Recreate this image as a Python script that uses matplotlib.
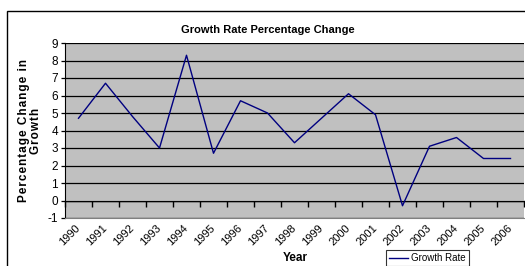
import matplotlib
matplotlib.use("Agg")
import matplotlib.pyplot as plt
from matplotlib.patches import Rectangle
import numpy as np

plt.rcParams['font.family'] = ['Liberation Sans', 'DejaVu Sans']

# data
years = ['1990', '1991', '1992', '1993', '1994', '1995', '1996', '1997', '1998',
         '1999', '2000', '2001', '2002', '2003', '2004', '2005', '2006']
growth = [4.7, 6.7, 4.8, 3.0, 8.3, 2.7, 5.7, 5.0, 3.3,
          4.7, 6.1, 4.9, -0.3, 3.1, 3.6, 2.4, 2.4]
yticks = list(range(-1, 10))


def spaced(s):
    # Excel-style letter spacing on the axis title
    return '\u200a'.join(s)


fig = plt.figure(figsize=(5.25, 2.66), dpi=100)
fig.patch.set_facecolor('white')

# outer chart border (runs off the right and bottom edges, like the crop)
fig.patches.append(Rectangle((7 / 525, -0.2), 1.2, 1 - 11 / 266 + 0.2,
                             transform=fig.transFigure, fill=False,
                             edgecolor='black', linewidth=1.0))

ax = fig.add_axes([65 / 525, 1 - 218 / 266, 459 / 525, 175 / 266])
ax.set_facecolor('#C0C0C0')

x = np.arange(len(years))
line, = ax.plot(x, growth, color='#000080', linewidth=1.0, label='Growth Rate')

ax.set_xlim(-0.5, len(years) - 0.5)
ax.set_ylim(-1, 9)
ax.set_yticks(yticks)
ax.set_yticklabels([str(v) for v in yticks], fontsize=8.5)
ax.yaxis.grid(True, color='black', linewidth=0.9)
ax.set_axisbelow(True)

ax.set_xticks(x)
ax.set_xticklabels(years, fontsize=8, rotation=45, ha='right', va='center',
                   rotation_mode='anchor')
ax.tick_params(axis='x', length=0, pad=6)
ax.tick_params(axis='y', length=3, width=0.9, pad=2, color='black')

for s in ['top', 'right']:
    ax.spines[s].set_visible(False)
ax.spines['left'].set_color('black')
ax.spines['bottom'].set_color('#808080')

# category axis crossing at zero, ticks between categories
sec = ax.secondary_xaxis(0.1)
sec.set_xticks(np.arange(len(years) + 1) - 0.5)
sec.set_xticklabels([])
sec.tick_params(axis='x', length=4, width=1.0, direction='out', color='black')
sec.spines['bottom'].set_color('black')
sec.spines['bottom'].set_linewidth(1.0)

fig.text(268 / 525, 1 - 30 / 266, 'Growth Rate Percentage Change',
         fontsize=8, fontweight='bold', ha='center', va='center')
fig.text(30 / 525, 1 - 131 / 266,
         spaced('Percentage Change in') + '\n' + spaced('Growth'),
         fontsize=8.5, fontweight='bold', rotation=90, ha='center', va='center',
         multialignment='center', linespacing=1.0)
fig.text(295 / 525, 1 - 258 / 266, 'Year', fontsize=8.5, fontweight='bold',
         ha='center', va='center')

leg = fig.legend(handles=[line], loc='upper left',
                 bbox_to_anchor=(386 / 525, 1 - 250 / 266), fontsize=7,
                 frameon=True, fancybox=False, edgecolor='black',
                 handlelength=2.0, borderpad=0.3, handletextpad=0.3,
                 borderaxespad=0)
leg.get_frame().set_linewidth(0.8)

fig.savefig('out.png', dpi=100)
